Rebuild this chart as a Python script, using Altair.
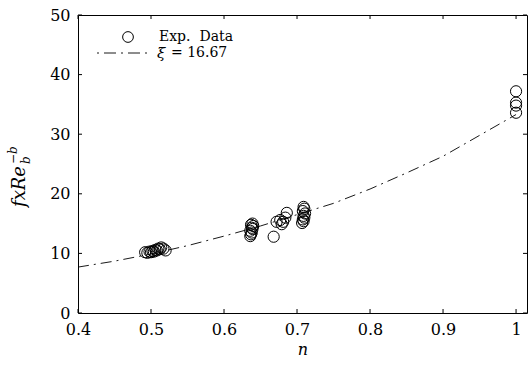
import altair as alt
import pandas as pd

# Experimental data (n, f x Re_b^-b)
exp_n = [0.492, 0.495, 0.498, 0.500, 0.502, 0.504, 0.506, 0.508, 0.510, 0.512, 0.514, 0.517, 0.520,
         0.636, 0.637, 0.638, 0.636, 0.639, 0.638, 0.640, 0.637, 0.639,
         0.668, 0.672, 0.677, 0.681, 0.684, 0.686, 0.679,
         0.707, 0.709, 0.708, 0.710, 0.709, 0.711, 0.708, 0.710, 0.709,
         1.000, 1.000, 1.000, 1.000]
exp_f = [10.2, 10.1, 10.3, 10.2, 10.4, 10.3, 10.6, 10.5, 10.8, 10.7, 11.0, 10.8, 10.5,
         12.9, 13.2, 13.5, 13.8, 14.1, 14.3, 14.6, 14.8, 15.0,
         12.8, 15.3, 15.6, 15.3, 16.0, 16.8, 14.9,
         15.1, 15.4, 15.7, 16.0, 16.3, 16.7, 17.1, 17.5, 17.8,
         33.6, 34.8, 35.3, 37.2]

# Model curve (xi = 16.67)
fit_n = [0.40, 0.45, 0.50, 0.55, 0.60, 0.65, 0.70, 0.75, 0.80, 0.85, 0.90, 0.95, 1.00]
fit_f = [7.7, 8.7, 9.9, 11.3, 12.9, 14.6, 16.5, 18.4, 20.8, 23.5, 26.3, 29.8, 33.3]

x_ticks = [0.4, 0.5, 0.6, 0.7, 0.8, 0.9, 1.0]
y_ticks = [0, 10, 20, 30, 40, 50]

W, H = 449, 298
FONT = "DejaVu Serif"
TL = 4  # inner tick length

xs = alt.Scale(domain=[0.4, 1.015], nice=False, zero=False)
ys = alt.Scale(domain=[0, 50], nice=False, zero=False)

exp_df = pd.DataFrame({"n": exp_n, "f": exp_f})
fit_df = pd.DataFrame({"n": fit_n, "f": fit_f})
xt_df = pd.DataFrame({"n": x_ticks})
yt_df = pd.DataFrame({"f": y_ticks})
one = alt.Data(values=[{}])

x_axis = alt.Axis(values=x_ticks, title="n", grid=False, ticks=False, domain=False,
                  labelFont=FONT, labelFontSize=16, labelColor="black", labelPadding=8,
                  labelFlush=False, labelOverlap=False,
                  labelExpr="datum.value == 1 ? '1' : format(datum.value, '.1f')",
                  titleFont=FONT, titleFontSize=16, titleFontStyle="italic",
                  titleFontWeight="normal", titleColor="black",
                  titleBaseline="alphabetic", titleY=41)
y_axis = alt.Axis(values=y_ticks, title=None, grid=False, ticks=False, domain=False,
                  labelFont=FONT, labelFontSize=16, labelColor="black", labelPadding=8,
                  labelFlush=False, labelOverlap=False, format="d")

X = alt.X("n:Q", scale=xs, axis=x_axis)
Y = alt.Y("f:Q", scale=ys, axis=y_axis)

points = alt.Chart(exp_df).mark_point(shape="circle", size=125, filled=False,
                                      stroke="black", strokeWidth=1, opacity=1).encode(
    x=X, y=Y)

curve = alt.Chart(fit_df).mark_line(color="black", strokeWidth=0.9,
                                    strokeDash=[11, 5, 2, 5]).encode(
    x=X, y=Y, order="n:Q")

tick_style = dict(color="black", strokeWidth=1)
xt_bottom = alt.Chart(xt_df).mark_rule(**tick_style).encode(
    x=X, y=alt.value(H), y2=alt.value(H - TL))
xt_top = alt.Chart(xt_df).mark_rule(**tick_style).encode(
    x=X, y=alt.value(0), y2=alt.value(TL))
yt_left = alt.Chart(yt_df).mark_rule(**tick_style).encode(
    y=Y, x=alt.value(0), x2=alt.value(TL))
yt_right = alt.Chart(yt_df).mark_rule(**tick_style).encode(
    y=Y, x=alt.value(W), x2=alt.value(W - TL))

# Legend
leg_circle = alt.Chart(one).mark_point(shape="circle", size=115, filled=False,
                                       stroke="black", strokeWidth=1, opacity=1).encode(
    x=alt.value(50), y=alt.value(22))
leg_line = alt.Chart(one).mark_rule(color="black", strokeWidth=0.9,
                                    strokeDash=[2, 5, 12, 5]).encode(
    x=alt.value(19), x2=alt.value(74), y=alt.value(38))
leg_t1 = alt.Chart(one).mark_text(text="Exp.\u00a0\u00a0Data", font=FONT, fontSize=14,
                                  align="left", baseline="middle", color="black").encode(
    x=alt.value(81), y=alt.value(22))
leg_t2a = alt.Chart(one).mark_text(text="ξ", font=FONT, fontSize=15, fontStyle="italic",
                                   align="left", baseline="middle", color="black").encode(
    x=alt.value(79), y=alt.value(38))
leg_t2b = alt.Chart(one).mark_text(text="= 16.67", font=FONT, fontSize=14,
                                   align="left", baseline="middle", color="black").encode(
    x=alt.value(93), y=alt.value(38))

# Y title  f x Re_b^{-b}
yt_main = alt.Chart(one).mark_text(text="fxRe", font=FONT, fontSize=18, fontStyle="italic",
                                   align="left", baseline="alphabetic", angle=270,
                                   color="black").encode(
    x=alt.value(-53), y=alt.value(192))
yt_sub = alt.Chart(one).mark_text(text="b", font=FONT, fontSize=12, fontStyle="italic",
                                  align="left", baseline="alphabetic", angle=270,
                                  color="black").encode(
    x=alt.value(-48), y=alt.value(149))
yt_sup = alt.Chart(one).mark_text(text="−b", font=FONT, fontSize=12, fontStyle="italic",
                                  align="left", baseline="alphabetic", angle=270,
                                  color="black").encode(
    x=alt.value(-61), y=alt.value(149))

chart = alt.layer(
    curve, points, xt_bottom, xt_top, yt_left, yt_right,
    leg_circle, leg_line, leg_t1, leg_t2a, leg_t2b,
    yt_main, yt_sub, yt_sup,
).properties(
    width=W, height=H,
    autosize=alt.AutoSizeParams(type="none"),
    padding={"left": 78, "top": 15, "right": 1, "bottom": 54},
    background="white",
).configure_view(stroke="black", strokeWidth=1)

chart.save("out.html", embed_options={"renderer": "svg", "actions": False})
